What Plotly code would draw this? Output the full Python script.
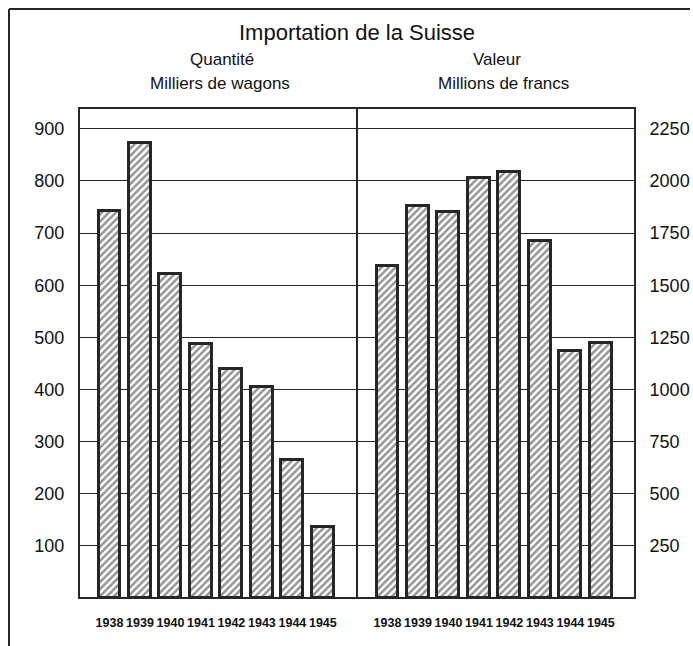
import plotly.graph_objects as go

years = [1938, 1939, 1940, 1941, 1942, 1943, 1944, 1945]
quantite = [742, 872, 622, 488, 440, 404, 265, 137]
valeur = [1593, 1880, 1850, 2015, 2045, 1712, 1187, 1222]

left_ticks = [100, 200, 300, 400, 500, 600, 700, 800, 900]
right_ticks = [250, 500, 750, 1000, 1250, 1500, 1750, 2000, 2250]

title = "Importation de la Suisse"
sub_left = ["Quantité", "Milliers de wagons"]
sub_right = ["Valeur", "Millions de francs"]

ink = "#262626"
font = "Liberation Sans, Arial, sans-serif"

bar_style = dict(
    color="white",
    line=dict(color=ink, width=3),
    pattern=dict(shape="/", size=5, solidity=0.5, fgcolor="#2a2a2a", bgcolor="white"),
)

fig = go.Figure()
fig.add_trace(go.Bar(x=years, y=quantite, width=0.72, marker=bar_style,
                     xaxis="x", yaxis="y", showlegend=False))
fig.add_trace(go.Bar(x=years, y=valeur, width=0.72, marker=bar_style,
                     xaxis="x2", yaxis="y2", showlegend=False))

# body margin is removed by a post-script, so figure pixels = target pixels
W, H = 693, 646
L, T = 79, 108
R = W - 635
B = H - 598
pw, ph = W - L - R, H - T - B

def px(x):
    return (x - L) / pw

def py(y):
    return (H - B - y) / ph

xcommon = dict(range=[1937.0, 1946.12], tickmode="array", tickvals=years,
               ticktext=[str(y) for y in years], showgrid=False, zeroline=False,
               showline=False, ticks="outside", ticklen=13, tickcolor="rgba(0,0,0,0)",
               tickangle=0, automargin=False,
               tickfont=dict(family=font, size=12.5, color="#111", weight="bold"))

ycommon = dict(showgrid=True, gridcolor=ink, gridwidth=1, zeroline=False,
               showline=False, ticks="outside", ticklen=10,
               tickcolor="rgba(0,0,0,0)", automargin=False,
               tickfont=dict(family=font, size=18, color="#111"))

def ann(text, x, y, size):
    return dict(text=text, xref="paper", yref="paper", x=px(x), y=py(y),
                xanchor="center", yanchor="middle", showarrow=False,
                font=dict(family=font, size=size, color="#111"))

fig.update_layout(
    width=W, height=H,
    margin=dict(l=L, r=R, t=T, b=B, autoexpand=False),
    paper_bgcolor="white", plot_bgcolor="white",
    font=dict(family=font, color="#111"),
    bargap=0,
    xaxis=dict(domain=[0, 0.5], anchor="y", **xcommon),
    xaxis2=dict(domain=[0.5, 1], anchor="y2", **xcommon),
    yaxis=dict(range=[0, 940], tickvals=left_ticks, anchor="x", **ycommon),
    yaxis2=dict(range=[0, 2350], tickvals=right_ticks, side="right", anchor="x2",
                **ycommon),
    shapes=[
        dict(type="rect", xref="paper", yref="paper", x0=0, x1=1, y0=0, y1=1,
             line=dict(color=ink, width=2), layer="above"),
        dict(type="line", xref="paper", yref="paper", x0=0.5, x1=0.5, y0=0, y1=1,
             line=dict(color=ink, width=2), layer="above"),
        dict(type="line", xref="paper", yref="paper", x0=px(9), x1=px(690),
             y0=py(9), y1=py(9), line=dict(color=ink, width=2)),
        dict(type="line", xref="paper", yref="paper", x0=px(9), x1=px(9),
             y0=py(9), y1=py(646), line=dict(color=ink, width=2)),
    ],
    annotations=[
        ann(title, 357, 33, 22),
        ann(sub_left[0], 222, 60, 17),
        ann(sub_left[1], 220, 83, 17),
        ann(sub_right[0], 497, 60, 17),
        ann(sub_right[1], 503, 83, 17),
    ],
)

fig.write_html(
    "out.html",
    config={"displayModeBar": False},
    post_script="document.body.style.margin='0';"
                "document.documentElement.style.overflow='hidden';"
                "document.body.style.overflow='hidden';",
)
